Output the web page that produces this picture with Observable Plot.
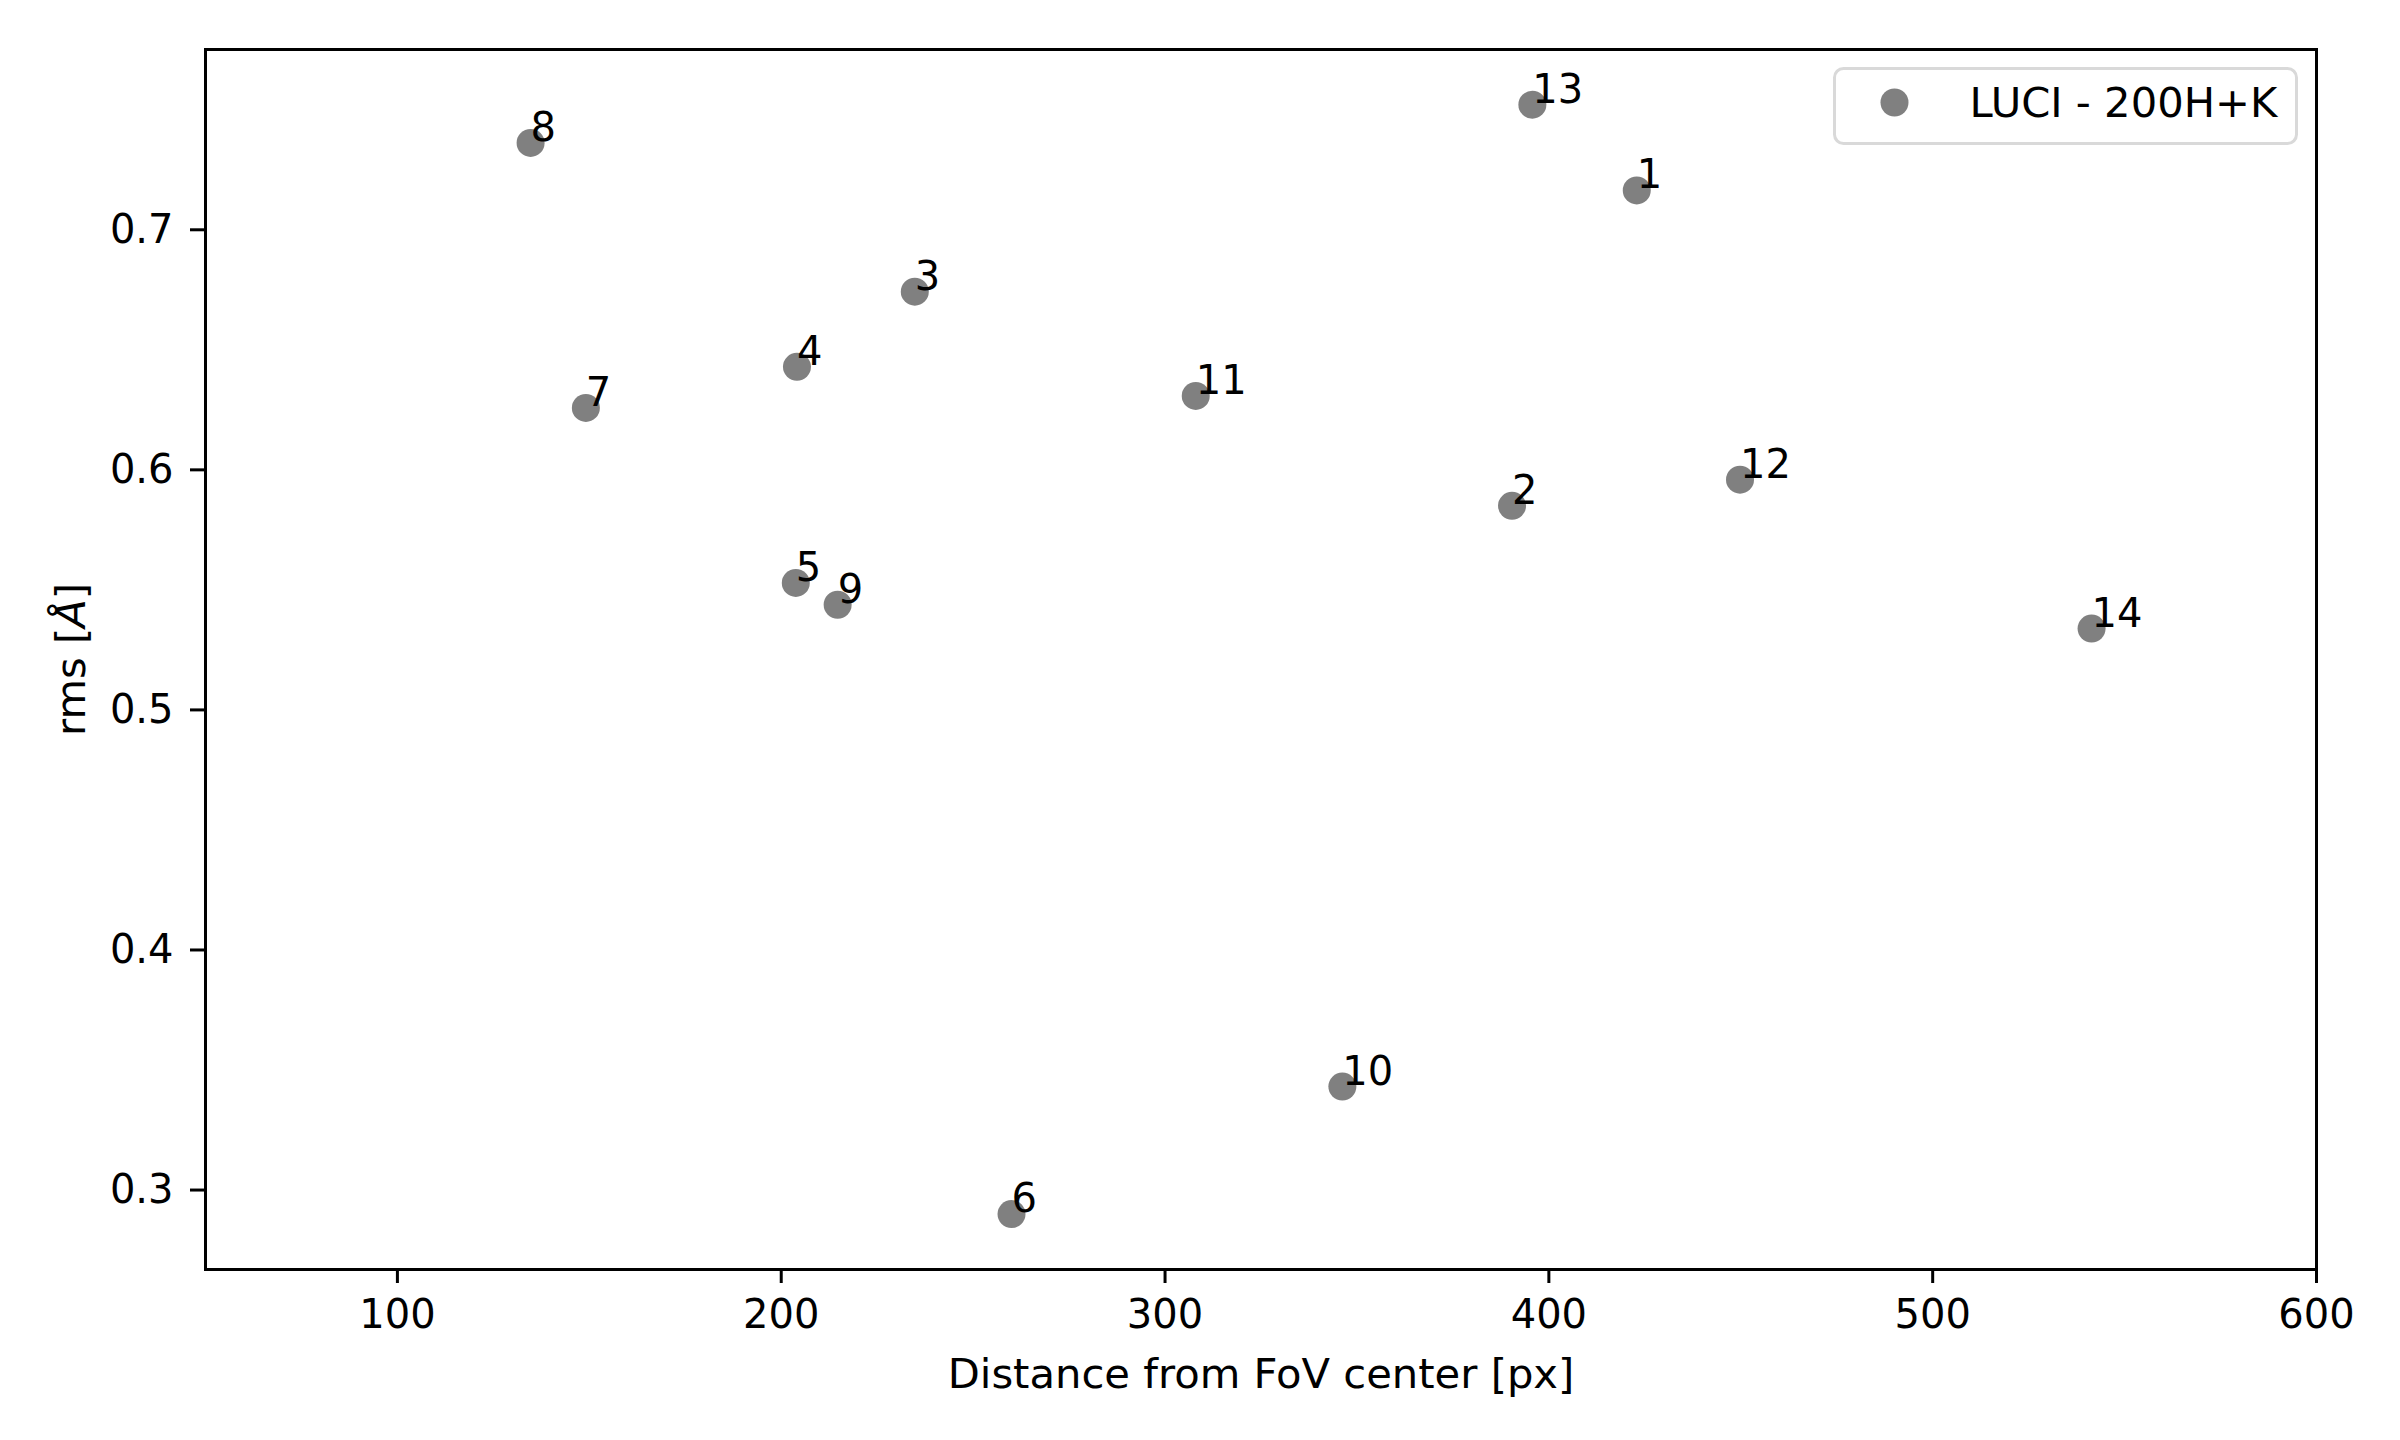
<!DOCTYPE html>
<html>
<head>
<meta charset="utf-8">
<script src="https://cdn.jsdelivr.net/npm/d3@7"></script>
<script src="https://cdn.jsdelivr.net/npm/@observablehq/plot@0.6"></script>
<style>
  html, body { margin: 0; padding: 0; background: white; }
  #chart { width: 2400px; height: 1440px; }
</style>
</head>
<body>
<div id="chart"></div>
<script>
// ---- data ----
const ids      = [1, 2, 3, 4, 5, 6, 7, 8, 9, 10, 11, 12, 13, 14];
const distance = [422.9, 390.4, 234.8, 204.1, 203.8, 260.0, 149.1, 134.7, 214.7, 346.2, 308.0, 449.8, 395.7, 541.4];
const rms      = [0.7164, 0.585, 0.6742, 0.6429, 0.5529, 0.290, 0.6258, 0.7362, 0.5438, 0.3431, 0.6308, 0.5959, 0.7521, 0.5339];
const seriesName = "LUCI - 200H+K";
const xTicks = [100, 200, 300, 400, 500, 600];
const yTicks = [0.3, 0.4, 0.5, 0.6, 0.7];
const xLabel = "Distance from FoV center [px]";
const yLabel = "rms [Å]";

const data = ids.map((id, i) => ({id, distance: distance[i], rms: rms[i]}));

const W = 2400, H = 1440;
const mL = 205, mR = 84, mT = 49, mB = 171;
const FS = 40;      // tick labels / point labels
const FL = 41.7;    // axis titles / legend
const grey = "#808080";

const chart = Plot.plot({
  width: W, height: H,
  marginLeft: mL, marginRight: mR, marginTop: mT, marginBottom: mB,
  style: {fontFamily: "DejaVu Sans", fontSize: FS + "px", background: "white", color: "black"},
  x: {domain: [50, 600]},
  y: {domain: [0.2669, 0.7751]},
  marks: [
    Plot.axisX(xTicks, {tickSize: 14, tickPadding: 16, strokeWidth: 3, fontSize: FS, label: null, tickFormat: d3.format("d")}),
    Plot.axisY(yTicks, {tickSize: 15, tickPadding: 17, strokeWidth: 3, fontSize: FS, label: null, tickFormat: d3.format(".1f")}),
    Plot.dot(data, {x: "distance", y: "rms", r: 14, fill: grey, stroke: "none"}),
    Plot.text(data, {x: "distance", y: "rms", text: d => String(d.id), textAnchor: "start", lineAnchor: "bottom", dx: 0, dy: -2, fill: "black", fontSize: FS}),
    // x axis title
    Plot.text([xLabel], {frameAnchor: "bottom", text: d => d, lineAnchor: "bottom", dy: 118, fontSize: FL, fill: "black"}),
    // y axis title
    Plot.text([yLabel], {frameAnchor: "left", text: d => d, rotate: -90, lineAnchor: "bottom", textAnchor: "middle", dx: -121, fontSize: FL, fill: "black"}),
    // legend box
    Plot.frame({stroke: "#d9d9d9", strokeWidth: 3, fill: "white", rx: 9, insetLeft: 1629, insetRight: 20, insetTop: 19, insetBottom: 1126}),
    Plot.dot([seriesName], {frameAnchor: "top-right", dx: -422, dy: 53, r: 14, fill: grey, stroke: "none"}),
    Plot.text([seriesName], {frameAnchor: "top-right", text: d => d, textAnchor: "start", lineAnchor: "bottom", dx: -347, dy: 67, fontSize: FL, fill: "black"}),
    Plot.frame({stroke: "black", strokeWidth: 3})
  ]
});

document.getElementById("chart").appendChild(chart);

// italic Å in the y-axis title (matplotlib mathtext)
d3.select(chart).selectAll("text").filter(function() { return this.textContent === yLabel; })
  .each(function() {
    const t = d3.select(this);
    t.text(null);
    t.append("tspan").text("rms [");
    t.append("tspan").attr("font-style", "italic").text("Å");
    t.append("tspan").text("]");
  });
</script>
</body>
</html>
